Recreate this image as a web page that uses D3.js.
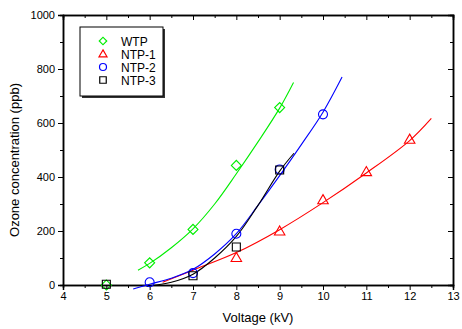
<!DOCTYPE html>
<html>
<head>
<meta charset="utf-8">
<script src="https://cdn.jsdelivr.net/npm/d3@7"></script>
<style>
  body { margin: 0; background: #fff; }
  text { font-family: "Liberation Sans", Arial, sans-serif; fill: #000; }
</style>
</head>
<body>
<svg id="chart"></svg>
<script>
// measured points
const wtpV = [5, 6, 7, 8, 9];
const wtpO = [0, 82, 206, 443, 657];
const ntp1V = [8, 9, 10, 11, 12];
const ntp1O = [102, 200, 316, 420, 540];
const ntp2V = [6, 7, 8, 9, 10];
const ntp2O = [10, 44, 190, 428, 632];
const ntp3V = [5, 7, 8, 9];
const ntp3O = [3, 34, 141, 426];

// fitted curves
const wtpFitV = [5.73, 6, 6.5, 7, 7.5, 8, 8.5, 9, 9.32];
const wtpFitO = [55, 80, 138, 208, 300, 412, 530, 655, 750];
const ntp1FitV = [6.3, 7, 8, 9, 10, 11, 12, 12.5];
const ntp1FitO = [10, 55, 120, 205, 305, 415, 535, 617];
const ntp2FitV = [5.62, 6, 6.5, 7, 7.5, 8, 8.5, 9, 9.5, 10, 10.44];
const ntp2FitO = [-15, 3, 25, 58, 115, 190, 295, 405, 520, 640, 770];
const ntp3FitV = [5.93, 6.5, 7, 7.5, 8, 8.5, 9, 9.33];
const ntp3FitO = [-5, 10, 40, 100, 180, 295, 422, 488];

const xTicks = [4, 5, 6, 7, 8, 9, 10, 11, 12, 13];
const yTicks = [0, 200, 400, 600, 800, 1000];

const W = 462, H = 329;
const margin = {top: 15, right: 9, bottom: 44, left: 63};
const width = W - margin.left - margin.right;
const height = H - margin.top - margin.bottom;

const svg = d3.select("#chart").attr("width", W).attr("height", H);
const g = svg.append("g").attr("transform", `translate(${margin.left},${margin.top})`);

const x = d3.scaleLinear().domain([4, 13]).range([0, width]);
const y = d3.scaleLinear().domain([0, 1000]).range([height, 0]);

const series = [
  {name: "WTP", color: "#00ee00", shape: "diamond", v: wtpV, o: wtpO, fv: wtpFitV, fo: wtpFitO},
  {name: "NTP-1", color: "#ff0000", shape: "triangle", v: ntp1V, o: ntp1O, fv: ntp1FitV, fo: ntp1FitO},
  {name: "NTP-2", color: "#0000ff", shape: "circle", v: ntp2V, o: ntp2O, fv: ntp2FitV, fo: ntp2FitO},
  {name: "NTP-3", color: "#000000", shape: "square", v: ntp3V, o: ntp3O, fv: ntp3FitV, fo: ntp3FitO}
];

function symbolPath(shape, s) {
  if (shape === "diamond") return d3.symbol(d3.symbolSquare, s * s * 0.5)();
  if (shape === "triangle") return d3.symbol(d3.symbolTriangle, s * s * 0.433)();
  if (shape === "circle") return d3.symbol(d3.symbolCircle, Math.PI * s * s / 4)();
  return d3.symbol(d3.symbolSquare, s * s)();
}
const markSize = {diamond: 10, triangle: 10.5, circle: 9, square: 8};
const legSize = {diamond: 7.5, triangle: 8, circle: 7, square: 6.5};

// axes
const major = 5, minor = 3;
const xMinor = d3.range(4.5, 13, 1);
const yMinor = d3.range(100, 1000, 200);
const axB = g.append("g").attr("transform", `translate(0,${height})`)
  .call(d3.axisBottom(x).tickValues(xTicks).tickSize(major).tickPadding(2).tickFormat(d3.format("d")));
axB.append("g").call(d3.axisBottom(x).tickValues(xMinor).tickSize(minor).tickFormat(""));
const axL = g.append("g")
  .call(d3.axisLeft(y).tickValues(yTicks).tickSize(major).tickPadding(3).tickFormat(d3.format("d")));
axL.append("g").call(d3.axisLeft(y).tickValues(yMinor).tickSize(minor).tickFormat(""));
const axT = g.append("g")
  .call(d3.axisTop(x).tickValues(xTicks).tickSize(-major).tickFormat(""));
axT.append("g").call(d3.axisTop(x).tickValues(xMinor).tickSize(-minor).tickFormat(""));
const axR = g.append("g").attr("transform", `translate(${width},0)`)
  .call(d3.axisRight(y).tickValues(yTicks).tickSize(-major).tickFormat(""));
axR.append("g").call(d3.axisRight(y).tickValues(yMinor).tickSize(-minor).tickFormat(""));

g.selectAll(".domain").attr("stroke", "#000").attr("stroke-width", 1.5);
g.selectAll(".tick line").attr("stroke", "#000").attr("stroke-width", 1);
g.selectAll(".tick text").style("font-size", "11px").attr("fill", "#000");

// clip for curves
g.append("clipPath").attr("id", "clip").append("rect")
  .attr("x", 0).attr("y", 0).attr("width", width).attr("height", height + 5);

const line = d3.line().x(d => x(d[0])).y(d => y(d[1])).curve(d3.curveCatmullRom);
series.forEach(s => {
  g.append("path")
    .datum(s.fv.map((v, i) => [v, s.fo[i]]))
    .attr("d", line)
    .attr("fill", "none")
    .attr("stroke", s.color)
    .attr("stroke-width", 1.1)
    .attr("clip-path", "url(#clip)");
});

series.forEach(s => {
  const pts = s.v.map((v, i) => [v, s.o[i]]);
  g.selectAll(null).data(pts).join("path")
    .attr("d", symbolPath(s.shape, markSize[s.shape]))
    .attr("transform", d => `translate(${x(d[0])},${y(d[1])})` + (s.shape === "diamond" ? " rotate(45)" : s.shape === "triangle" ? " translate(0,1)" : ""))
    .attr("fill", "none")
    .attr("stroke", s.color)
    .attr("stroke-width", 1.1);
});

// legend
const leg = svg.append("g").attr("transform", "translate(80,27)");
leg.append("rect").attr("x", 2).attr("y", 2).attr("width", 83).attr("height", 69).attr("fill", "#333");
leg.append("rect").attr("width", 83).attr("height", 69).attr("fill", "#fff").attr("stroke", "#000").attr("stroke-width", 1);
series.forEach((s, i) => {
  const row = leg.append("g").attr("transform", `translate(0,${14 + i * 13})`);
  row.append("path")
    .attr("d", symbolPath(s.shape, legSize[s.shape]))
    .attr("transform", "translate(23,0)" + (s.shape === "diamond" ? " rotate(45)" : s.shape === "triangle" ? " translate(0,0.5)" : ""))
    .attr("fill", "none").attr("stroke", s.color).attr("stroke-width", 1.2);
  row.append("text").attr("x", 41).attr("y", 4.5).style("font-size", "12px").text(s.name);
});

// axis titles
svg.append("text")
  .attr("x", margin.left + width / 2).attr("y", 322)
  .attr("text-anchor", "middle").style("font-size", "13px")
  .text("Voltage (kV)");
svg.append("text")
  .attr("transform", "translate(19,160) rotate(-90)")
  .attr("text-anchor", "middle").style("font-size", "13px")
  .text("Ozone concentration (ppb)");
</script>
</body>
</html>
